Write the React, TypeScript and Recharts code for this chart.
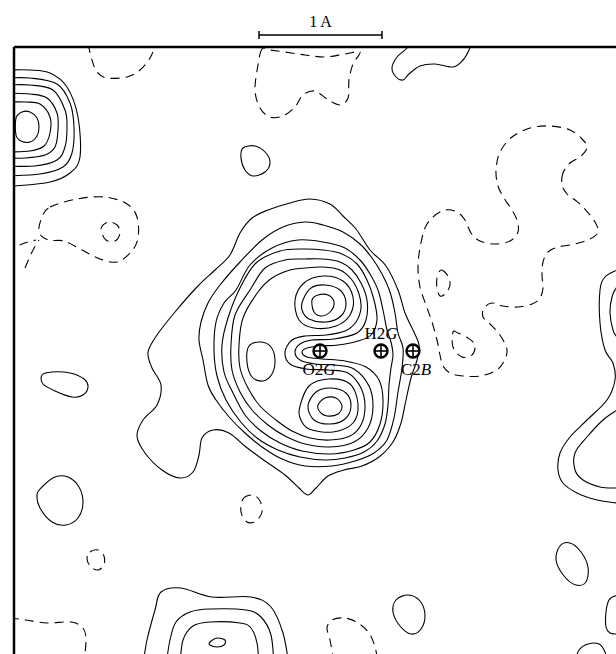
import React from "react";
import {
  ComposedChart,
  Line,
  Scatter,
  XAxis,
  YAxis,
  ReferenceLine,
  ReferenceDot,
} from "recharts";

type Pt = [number, number];

// map units (123 units = 1 A, see the scale bar); y grows downwards

// --- peak cut by the left edge
const leftPeak1: Pt[] = [[16, 118], [22, 112], [30, 112], [37, 118], [39, 127], [37, 136], [30, 142], [21, 141], [16, 135]];
const leftPeak2: Pt[] = [[6, 102], [25, 102], [40, 104], [50, 117], [50, 133], [44, 146], [30, 151], [6, 152]];
const leftPeak3: Pt[] = [[6, 93], [30, 94], [47, 98], [57, 113], [58, 130], [55, 147], [45, 155], [25, 158], [6, 158]];
const leftPeak4: Pt[] = [[6, 85], [30, 85], [53, 90], [65, 110], [67, 127], [65, 147], [57, 160], [35, 166], [6, 166]];
const leftPeak5: Pt[] = [[6, 78], [30, 78], [57, 84], [70, 103], [74, 127], [72, 153], [63, 167], [40, 174], [6, 176]];
const leftPeak6: Pt[] = [[6, 70], [30, 70], [50, 73], [67, 87], [78, 117], [80, 157], [70, 173], [50, 182], [15, 186], [6, 186]];

// --- water molecule (O2G lone pairs)
const mol1: Pt[] = [[240, 233], [252, 218], [268, 210], [290, 203], [310, 199], [330, 204], [343, 216], [356, 229], [370, 250], [386, 266], [398, 290], [405, 313], [413, 330], [419, 345], [417, 360], [411, 378], [406, 400], [401, 423], [393, 442], [379, 457], [362, 466], [344, 470], [328, 476], [316, 488], [308, 495], [299, 488], [285, 475], [265, 461], [246, 447], [229, 433], [213, 430], [202, 438], [199, 455], [193, 472], [180, 478], [162, 470], [145, 453], [137, 436], [143, 420], [157, 405], [161, 385], [152, 368], [148, 352], [157, 335], [175, 312], [197, 287], [215, 270], [230, 255]];
const mol2: Pt[] = [[240, 262], [262, 240], [283, 227], [305, 222], [323, 225], [343, 232], [360, 244], [372, 258], [382, 274], [390, 292], [395, 313], [398, 333], [403, 348], [402, 368], [398, 392], [394, 418], [387, 440], [374, 453], [355, 461], [332, 466], [305, 466], [282, 459], [262, 447], [245, 433], [230, 418], [216, 400], [208, 385], [203, 360], [199, 340], [201, 322], [208, 303], [220, 285]];
const mol3: Pt[] = [[236, 290], [250, 265], [272, 248], [298, 240], [323, 242], [345, 248], [360, 260], [370, 274], [378, 290], [383, 310], [387, 330], [391, 342], [393, 355], [391, 368], [389, 385], [388, 405], [385, 424], [377, 441], [364, 452], [345, 458], [325, 460], [300, 457], [278, 450], [257, 438], [240, 421], [226, 400], [217, 376], [214, 350], [216, 322], [224, 303]];
const mol4: Pt[] = [[240, 288], [256, 263], [280, 251], [303, 249], [323, 250], [342, 254], [357, 264], [367, 280], [374, 300], [377, 320], [371, 335], [358, 341], [338, 345], [320, 346], [307, 348], [302, 352], [307, 357], [322, 359], [345, 361], [366, 367], [379, 380], [383, 400], [380, 424], [370, 442], [354, 450], [330, 454], [302, 451], [280, 443], [261, 431], [245, 415], [233, 393], [224, 372], [222, 345], [228, 318]];
const mol5: Pt[] = [[250, 290], [265, 268], [285, 260], [305, 259], [323, 259], [340, 262], [352, 270], [361, 283], [367, 300], [366, 320], [357, 333], [334, 339], [312, 340], [300, 344], [295, 352], [300, 360], [315, 364], [335, 365], [354, 369], [369, 386], [373, 407], [368, 428], [354, 442], [330, 447], [305, 444], [285, 436], [268, 425], [252, 410], [240, 392], [232, 370], [231, 345], [235, 315]];
const mol6: Pt[] = [[258, 292], [272, 278], [290, 270], [305, 268], [323, 267], [340, 270], [352, 280], [359, 294], [361, 308], [356, 322], [345, 331], [326, 335], [305, 336], [292, 340], [285, 352], [290, 364], [306, 369], [328, 370], [348, 373], [361, 388], [365, 407], [361, 425], [350, 436], [330, 440], [310, 438], [292, 431], [276, 420], [260, 406], [248, 388], [240, 368], [239, 345], [243, 318]];
const molPit: Pt[] = [[249, 346], [261, 342], [271, 347], [275, 360], [272, 374], [263, 381], [252, 377], [247, 362]];
const upperLobe1: Pt[] = [[312, 300], [318, 295], [328, 295], [334, 302], [331, 311], [322, 316], [314, 312]];
const upperLobe2: Pt[] = [[303, 300], [311, 288], [325, 285], [340, 290], [346, 303], [341, 316], [326, 322], [309, 319], [302, 310]];
const upperLobe3: Pt[] = [[295, 300], [304, 283], [323, 276], [343, 281], [353, 297], [350, 315], [336, 326], [314, 328], [299, 320]];
const lowerLobe1: Pt[] = [[318, 405], [325, 398], [336, 398], [342, 406], [338, 414], [327, 416], [320, 412]];
const lowerLobe2: Pt[] = [[308, 406], [316, 392], [331, 388], [346, 393], [351, 406], [345, 419], [330, 424], [314, 420]];
const lowerLobe3: Pt[] = [[300, 406], [309, 386], [329, 379], [350, 384], [358, 404], [353, 423], [333, 432], [309, 429], [300, 418]];

// --- small positive islands
const islandA: Pt[] = [[243, 148], [255, 146], [266, 153], [270, 163], [265, 172], [253, 176], [245, 170], [241, 158]];
const islandB: Pt[] = [[42, 375], [52, 372], [70, 373], [84, 379], [88, 387], [83, 395], [72, 397], [55, 391], [43, 384]];
const islandC: Pt[] = [[42, 487], [55, 477], [68, 477], [79, 487], [83, 503], [78, 518], [66, 525], [52, 522], [40, 508], [37, 495]];
const islandD: Pt[] = [[396, 600], [408, 595], [420, 601], [425, 615], [421, 629], [411, 634], [400, 626], [393, 612]];
const islandE: Pt[] = [[560, 546], [570, 543], [581, 552], [588, 567], [586, 582], [576, 585], [564, 576], [556, 560]];
const bottomCore: Pt[] = [[210, 642], [217, 638], [225, 640], [224, 645], [217, 647], [210, 645]];

// --- positive, running off the map
const topBlob: Pt[] = [[410, 40], [407, 48], [397, 57], [392, 68], [396, 77], [403, 80], [409, 74], [420, 66], [435, 64], [453, 67], [463, 60], [469, 50], [472, 40]];
const rightOuter: Pt[] = [[625, 266], [617, 270], [605, 277], [600, 290], [600, 323], [605, 350], [613, 363], [615, 380], [607, 400], [587, 420], [570, 437], [560, 453], [558, 470], [563, 483], [577, 493], [597, 500], [617, 503], [625, 504]];
const rightInnerTop: Pt[] = [[625, 282], [617, 287], [612, 297], [610, 313], [613, 330], [617, 337], [625, 342]];
const rightInnerLow: Pt[] = [[625, 405], [617, 410], [603, 420], [587, 437], [575, 453], [575, 470], [583, 480], [600, 487], [617, 488], [625, 488]];
const rightEdge: Pt[] = [[625, 596], [615, 596], [609, 600], [606, 612], [606, 627], [610, 633], [617, 634], [625, 634]];
const bottomRight: Pt[] = [[575, 662], [579, 650], [588, 644], [599, 644], [605, 652], [607, 662]];
const bottom1: Pt[] = [[143, 665], [147, 640], [155, 610], [161, 592], [181, 588], [212, 597], [251, 597], [271, 607], [283, 633], [289, 665]];
const bottom2: Pt[] = [[166, 665], [170, 640], [176, 622], [190, 612], [210, 609], [246, 610], [261, 617], [271, 635], [274, 665]];
const bottom3: Pt[] = [[180, 665], [183, 640], [193, 626], [210, 622], [240, 623], [251, 628], [257, 643], [259, 665]];

// --- negative density (dashed)
const negTop: Pt[] = [[262, 49], [258, 65], [255, 90], [260, 108], [270, 117], [283, 116], [295, 107], [303, 95], [315, 91], [327, 99], [340, 105], [348, 98], [349, 80], [353, 64], [360, 52], [345, 54], [325, 57], [305, 55], [285, 52], [270, 50]];
const negRight: Pt[] = [[563, 173], [562, 185], [567, 194], [575, 200], [584, 208], [595, 222], [598, 232], [590, 239], [575, 244], [558, 247], [548, 252], [543, 262], [542, 275], [543, 288], [540, 298], [532, 304], [518, 307], [503, 306], [492, 303], [484, 308], [483, 317], [490, 324], [500, 335], [507, 350], [503, 363], [495, 371], [480, 376], [463, 376], [450, 373], [443, 366], [440, 355], [437, 340], [432, 322], [426, 305], [420, 287], [418, 267], [420, 248], [425, 228], [433, 217], [445, 210], [457, 212], [465, 220], [471, 233], [480, 241], [495, 244], [510, 241], [518, 232], [517, 220], [512, 210], [504, 198], [498, 186], [496, 170], [500, 152], [512, 137], [530, 128], [550, 126], [570, 130], [583, 140], [587, 148], [580, 157], [570, 163]];
const negRightA: Pt[] = [[441, 270], [448, 276], [450, 285], [446, 293], [440, 296], [437, 288], [437, 278]];
const negRightB: Pt[] = [[453, 332], [458, 333], [468, 338], [475, 345], [472, 355], [462, 357], [453, 347]];
const negLeft: Pt[] = [[50, 207], [77, 199], [105, 197], [127, 204], [137, 217], [138, 238], [131, 252], [117, 262], [100, 259], [82, 250], [64, 241], [48, 240], [39, 232], [42, 217]];
const negLeftCore: Pt[] = [[101, 229], [108, 222], [117, 225], [120, 233], [115, 241], [106, 240]];
const negMid: Pt[] = [[243, 499], [253, 495], [260, 501], [262, 512], [256, 521], [247, 522], [241, 512]];
const negSmall: Pt[] = [[90, 552], [98, 550], [104, 556], [104, 565], [98, 570], [91, 567], [87, 559]];
const negTopLeft: Pt[] = [[88, 44], [92, 60], [97, 72], [107, 78], [127, 77], [140, 70], [150, 58], [156, 44]];
const negEdgeA: Pt[] = [[6, 252], [22, 244], [36, 240]];
const negEdgeB: Pt[] = [[25, 268], [32, 252], [39, 240]];
const negBottomLeft: Pt[] = [[10, 618], [26, 620], [47, 623], [71, 622], [83, 628], [86, 640], [84, 662]];
const negBottom: Pt[] = [[334, 662], [330, 640], [327, 628], [332, 620], [345, 618], [358, 623], [369, 633], [375, 647], [378, 662]];

const atoms = [
  { name: "O2G", x: 320, y: 351 },
  { name: "H2G", x: 381, y: 351 },
  { name: "C2B", x: 413, y: 351 },
];

const SCALE_FROM = 259;
const SCALE_TO = 382; // 1 A

type Contour = { pts: Pt[]; closed: boolean; negative: boolean };
const c = (pts: Pt[], closed: boolean, negative = false): Contour => ({ pts, closed, negative });

const contours: Contour[] = [
  c(leftPeak1, true), c(leftPeak2, false), c(leftPeak3, false), c(leftPeak4, false), c(leftPeak5, false), c(leftPeak6, false),
  c(mol1, true), c(mol2, true), c(mol3, true), c(mol4, true), c(mol5, true), c(mol6, true), c(molPit, true),
  c(upperLobe1, true), c(upperLobe2, true), c(upperLobe3, true),
  c(lowerLobe1, true), c(lowerLobe2, true), c(lowerLobe3, true),
  c(islandA, true), c(islandB, true), c(islandC, true), c(islandD, true), c(islandE, true), c(bottomCore, true),
  c(topBlob, false), c(rightOuter, false), c(rightInnerTop, false), c(rightInnerLow, false),
  c(rightEdge, false), c(bottomRight, false), c(bottom1, false), c(bottom2, false), c(bottom3, false),
  c(negTop, true, true), c(negRight, true, true), c(negRightA, true, true), c(negRightB, true, true),
  c(negLeft, true, true), c(negLeftCore, true, true), c(negMid, true, true), c(negSmall, true, true),
  c(negTopLeft, false, true), c(negEdgeA, false, true), c(negEdgeB, false, true),
  c(negBottomLeft, false, true), c(negBottom, false, true),
];

// smooth Catmull-Rom curve through the points (d3 curve factory interface)
const spline = (closed: boolean) => (ctx: any) => {
  let p: Pt[] = [];
  const at = (i: number): Pt => {
    const n = p.length;
    return closed ? p[(i + n) % n] : p[Math.min(n - 1, Math.max(0, i))];
  };
  return {
    areaStart() {},
    areaEnd() {},
    lineStart() {
      p = [];
    },
    point(x: number, y: number) {
      p.push([+x, +y]);
    },
    lineEnd() {
      const n = p.length;
      if (n < 2) return;
      ctx.moveTo(p[0][0], p[0][1]);
      const segs = closed ? n : n - 1;
      for (let i = 0; i < segs; i++) {
        const a = at(i - 1), b = at(i), d = at(i + 1), e = at(i + 2);
        ctx.bezierCurveTo(
          b[0] + (d[0] - a[0]) / 6, b[1] + (d[1] - a[1]) / 6,
          d[0] - (e[0] - b[0]) / 6, d[1] - (e[1] - b[1]) / 6,
          d[0], d[1]
        );
      }
      if (closed) ctx.closePath();
    },
  };
};
const closedCurve: any = spline(true);
const openCurve: any = spline(false);

const serif = "'Liberation Serif', 'Times New Roman', serif";
const labelPos: Record<string, { dx: number; dy: number }> = {
  H2G: { dx: 0, dy: -12 },
  O2G: { dx: -1, dy: 24 },
  C2B: { dx: 3, dy: 24 },
};

const AtomMark = (props: any) => {
  const { cx, cy, payload } = props;
  const name: string = payload.name;
  const off = labelPos[name] ?? { dx: 0, dy: 20 };
  return (
    <g>
      <circle cx={cx} cy={cy} r={6.5} fill="#fff" stroke="#000" strokeWidth={2.4} />
      <line x1={cx - 6.5} x2={cx + 6.5} y1={cy} y2={cy} stroke="#000" strokeWidth={1.6} />
      <line x1={cx} x2={cx} y1={cy - 6.5} y2={cy + 6.5} stroke="#000" strokeWidth={1.6} />
      <text x={cx + off.dx} y={cy + off.dy} textAnchor="middle" fontFamily={serif} fontSize={17} fill="#000">
        {name.slice(0, 2)}
        <tspan fontStyle="italic">{name.slice(2)}</tspan>
      </text>
    </g>
  );
};

export default function App() {
  return (
    <div style={{ position: "absolute", left: 0, top: 0, background: "#fff" }}>
      <ComposedChart width={616} height={654} margin={{ top: 47, right: 0, bottom: 0, left: 14 }}>
        <XAxis type="number" dataKey="x" domain={[14, 616]} allowDataOverflow hide />
        <YAxis type="number" dataKey="y" domain={[47, 654]} reversed allowDataOverflow hide />
        {contours.map((k, i) => (
          <Line
            key={`c-${i}`}
            data={k.pts.map(([x, y]) => ({ x, y }))}
            dataKey="y"
            type={k.closed ? closedCurve : openCurve}
            stroke="#000"
            strokeWidth={1.1}
            strokeDasharray={k.negative ? "9 6" : undefined}
            dot={false}
            activeDot={false}
            legendType="none"
            isAnimationActive={false}
          />
        ))}
        <ReferenceLine x={14} stroke="#000" strokeWidth={2.5} ifOverflow="visible" />
        <ReferenceLine y={47} stroke="#000" strokeWidth={2.5} ifOverflow="visible" />
        <ReferenceLine segment={[{ x: SCALE_FROM, y: 35 }, { x: SCALE_TO, y: 35 }]} stroke="#000" strokeWidth={1.5} ifOverflow="visible" />
        <ReferenceLine segment={[{ x: SCALE_FROM, y: 31 }, { x: SCALE_FROM, y: 39 }]} stroke="#000" strokeWidth={1.5} ifOverflow="visible" />
        <ReferenceLine segment={[{ x: SCALE_TO, y: 31 }, { x: SCALE_TO, y: 39 }]} stroke="#000" strokeWidth={1.5} ifOverflow="visible" />
        <ReferenceDot
          x={(SCALE_FROM + SCALE_TO) / 2}
          y={21}
          r={0}
          fill="none"
          stroke="none"
          ifOverflow="visible"
          label={{ value: "1 A", position: "center", fill: "#000", fontSize: 16, fontFamily: serif }}
        />
        <Scatter data={atoms} shape={AtomMark} isAnimationActive={false} legendType="none" />
      </ComposedChart>
    </div>
  );
}
